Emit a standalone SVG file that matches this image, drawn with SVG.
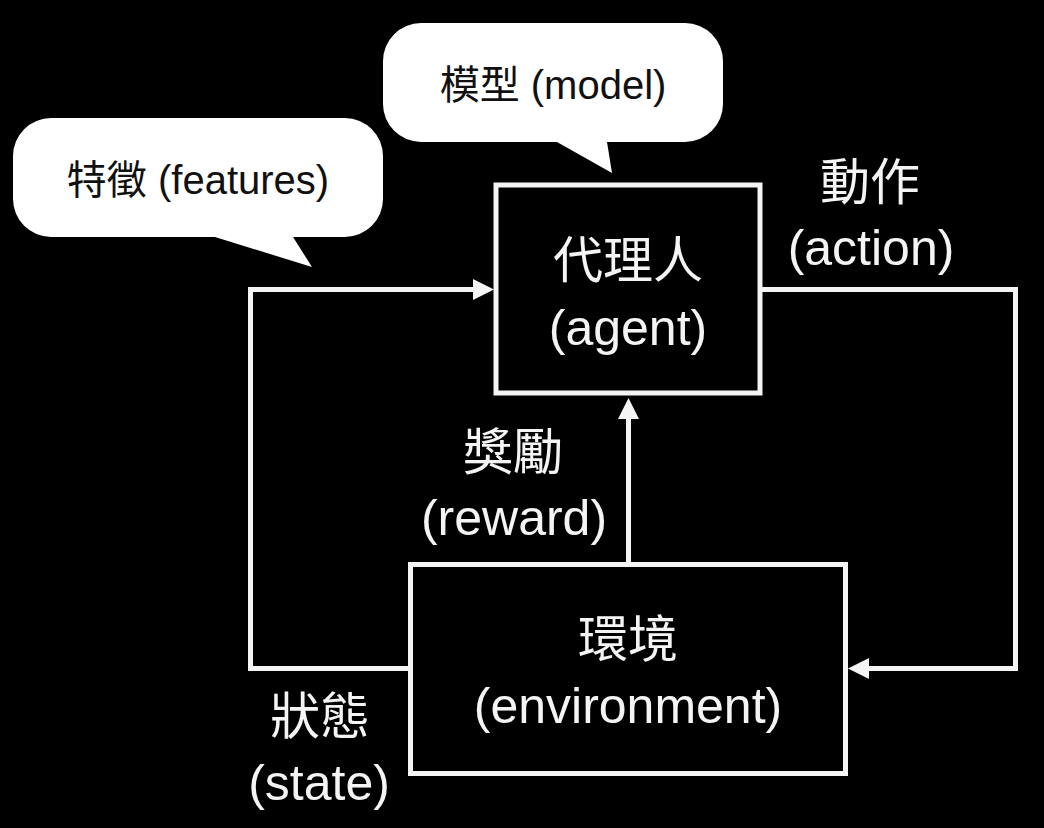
<svg xmlns="http://www.w3.org/2000/svg" width="1044" height="828" viewBox="0 0 1044 828">
<defs>
<style>
.bg{fill:#000}
.box{fill:#000;stroke:#f4f4f4;stroke-width:5}
.conn{fill:none;stroke:#f4f4f4;stroke-width:5}
.t{font-family:"Liberation Sans","Noto Sans CJK TC",sans-serif;font-size:50px;fill:#f4f4f4;text-anchor:middle}
.bt{font-family:"Liberation Sans","Noto Sans CJK TC",sans-serif;font-size:40px;fill:#111;text-anchor:middle}
.bubble{fill:#fff}
</style>
<marker id="arr" markerUnits="userSpaceOnUse" markerWidth="22" markerHeight="22" refX="0" refY="10.5" orient="auto">
<path d="M0,0 L21,10.5 L0,21 Z" fill="#f4f4f4"/>
</marker>
</defs>
<rect class="bg" x="0" y="0" width="1044" height="828"/>
<g id="connectors">
<path id="state-edge" class="conn" d="M410.5 668.5 H250.5 V289.5 H473" marker-end="url(#arr)"/>
<path id="action-edge" class="conn" d="M760 289.5 H1015.5 V668.5 H869" marker-end="url(#arr)"/>
<path id="reward-edge" class="conn" d="M628.5 564.5 V419" marker-end="url(#arr)"/>
</g>
<g id="agent">
<rect class="box" x="496" y="185" width="264" height="208"/>
<text class="t" x="628" y="278">代理人</text>
<text class="t" x="628" y="345">(agent)</text>
</g>
<g id="environment">
<rect class="box" x="410.5" y="564.5" width="435" height="209"/>
<text class="t" x="628" y="657">環境</text>
<text class="t" x="628" y="723">(environment)</text>
</g>
<g id="label-action">
<text class="t" x="870" y="200">動作</text>
<text class="t" x="871" y="265">(action)</text>
</g>
<g id="label-reward">
<text class="t" x="513" y="470">獎勵</text>
<text class="t" x="514" y="535">(reward)</text>
</g>
<g id="label-state">
<text class="t" x="320" y="734">狀態</text>
<text class="t" x="319" y="800">(state)</text>
</g>
<g id="bubble-features">
<path class="bubble" d="M51 118 H345 A38 38 0 0 1 383 156 V199 A38 38 0 0 1 345 237 H293 L312 267 L215 237 H51 A38 38 0 0 1 13 199 V156 A38 38 0 0 1 51 118 Z"/>
<text class="bt" x="198" y="194">特徵 (features)</text>
</g>
<g id="bubble-model">
<path class="bubble" d="M421 23 H685 A38 38 0 0 1 723 61 V104 A38 38 0 0 1 685 142 H607 L612 173 L557 142 H421 A38 38 0 0 1 383 104 V61 A38 38 0 0 1 421 23 Z"/>
<text class="bt" x="553" y="99">模型 (model)</text>
</g>
</svg>
